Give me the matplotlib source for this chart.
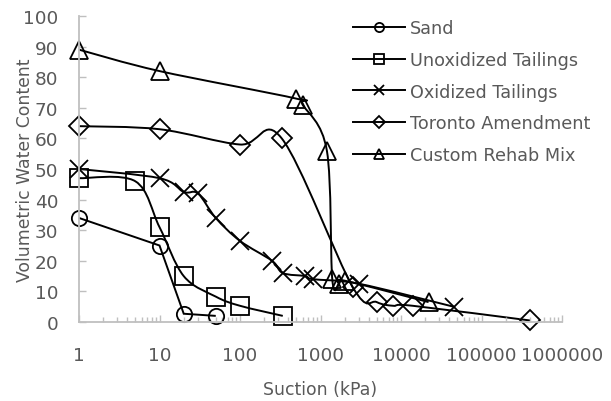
import numpy as np
import matplotlib
matplotlib.use("Agg")
import matplotlib.pyplot as plt
from matplotlib.path import Path
from matplotlib.patches import PathPatch
from matplotlib.lines import Line2D
from matplotlib.ticker import LogLocator, FixedLocator, FuncFormatter, NullFormatter

plt.rcParams['font.family'] = ['DejaVu Sans']

# data (suction kPa, volumetric water content %)
sand_x = [1, 10, 20, 50]
sand_y = [34, 25, 2.7, 2]

unox_x = [1, 5, 10, 20, 50, 100, 340]
unox_y = [47, 46, 31, 15, 8.3, 5.3, 2]

ox_x = [1, 10, 20, 30, 50, 100, 250, 340, 650, 800, 3000, 45000]
ox_y = [50, 47, 42.5, 42, 34, 26.5, 20, 16, 15, 14, 12.5, 5]

tor_x = [1, 10, 100, 330, 2500, 5000, 8000, 14000, 400000]
tor_y = [64, 63, 58, 60, 11.5, 6.5, 5.3, 5.3, 0.5]

crm_x = [1, 10, 500, 600, 1200, 1400, 1700, 2000, 22000]
crm_y = [89, 82, 73, 71, 56, 14, 12.5, 13.5, 6.5]

names = ['Sand', 'Unoxidized Tailings', 'Oxidized Tailings', 'Toronto Amendment', 'Custom Rehab Mix']
markers = ['o', 's', 'x', 'D', '^']
sizes = [11, 13, 13, 10.5, 13]
smoothed = [False, True, True, True, True]

xticks = [1, 10, 100, 1000, 10000, 100000, 1000000]
yticks = [0, 10, 20, 30, 40, 50, 60, 70, 80, 90, 100]

grey = '#595959'
axcol = '#BFBFBF'


def smooth_path(xs, ys, smooth=True):
    # excel style smoothed line: bezier segments built in log-x space
    pts = np.column_stack([np.log10(xs), np.array(ys, float)])
    n = len(pts)
    verts = [pts[0]]
    codes = [Path.MOVETO]
    for i in range(n - 1):
        if not smooth:
            verts.append(pts[i + 1])
            codes.append(Path.LINETO)
            continue
        p0 = pts[max(i - 1, 0)]
        p1 = pts[i]
        p2 = pts[i + 1]
        p3 = pts[min(i + 2, n - 1)]
        verts += [p1 + (p2 - p0) / 6, p2 - (p3 - p1) / 6, p2]
        codes += [Path.CURVE4] * 3
    verts = np.array(verts)
    verts[:, 0] = 10 ** verts[:, 0]
    return Path(verts, codes)


fig = plt.figure(figsize=(6.11, 4.02), dpi=100)
ax = fig.add_axes([79 / 611, 1 - 323 / 402, (562 - 79) / 611, (323 - 17) / 402])
ax.set_xscale('log')
ax.set_xlim(1, 1000000)
ax.set_ylim(0, 100)

series = [(sand_x, sand_y), (unox_x, unox_y), (ox_x, ox_y), (tor_x, tor_y), (crm_x, crm_y)]
handles = []
for (xs, ys), name, m, s, sm in zip(series, names, markers, sizes, smoothed):
    ax.add_patch(PathPatch(smooth_path(xs, ys, sm), fill=False, edgecolor='black', lw=1.4, clip_on=False))
    ax.plot(xs, ys, ls='none', marker=m, ms=s, mfc='none', mec='black', mew=1.3, clip_on=False)
    handles.append(Line2D([], [], color='black', lw=1.4, marker=m, ms=s, mfc='none', mec='black', mew=1.3))

for sp in ['top', 'right']:
    ax.spines[sp].set_visible(False)
for sp in ['left', 'bottom']:
    ax.spines[sp].set_color(axcol)
    ax.spines[sp].set_linewidth(1.3)

ax.xaxis.set_major_locator(FixedLocator(xticks))
ax.xaxis.set_major_formatter(FuncFormatter(lambda v, p: '%d' % round(v)))
ax.xaxis.set_minor_locator(LogLocator(base=10, subs=np.arange(2, 10), numticks=20))
ax.xaxis.set_minor_formatter(NullFormatter())
ax.yaxis.set_major_locator(FixedLocator(yticks))

ax.tick_params(axis='x', which='major', direction='in', length=5, width=1, color=axcol,
               pad=17, labelsize=13.3, labelcolor=grey)
ax.tick_params(axis='x', which='minor', direction='in', length=3.5, width=1, color=axcol)
ax.tick_params(axis='y', which='major', direction='in', length=5, width=1, color=axcol,
               pad=15, labelsize=13.3, labelcolor=grey)

fig.text(25 / 611, 1 - 170 / 402, 'Volumetric Water Content', rotation=90, ha='center', va='center',
         fontsize=12.4, color=grey)
fig.text(320 / 611, 1 - 390 / 402, 'Suction (kPa)', ha='center', va='center', fontsize=12.4, color=grey)

fig.legend(handles, names, loc='upper left', bbox_to_anchor=(353 / 611, 1 - 20 / 402), frameon=False,
           borderpad=0, borderaxespad=0, handlelength=2.95, handletextpad=0.28, labelspacing=0.78,
           markerscale=0.6, fontsize=12.7, labelcolor=grey)

fig.savefig('out.png', dpi=100)
